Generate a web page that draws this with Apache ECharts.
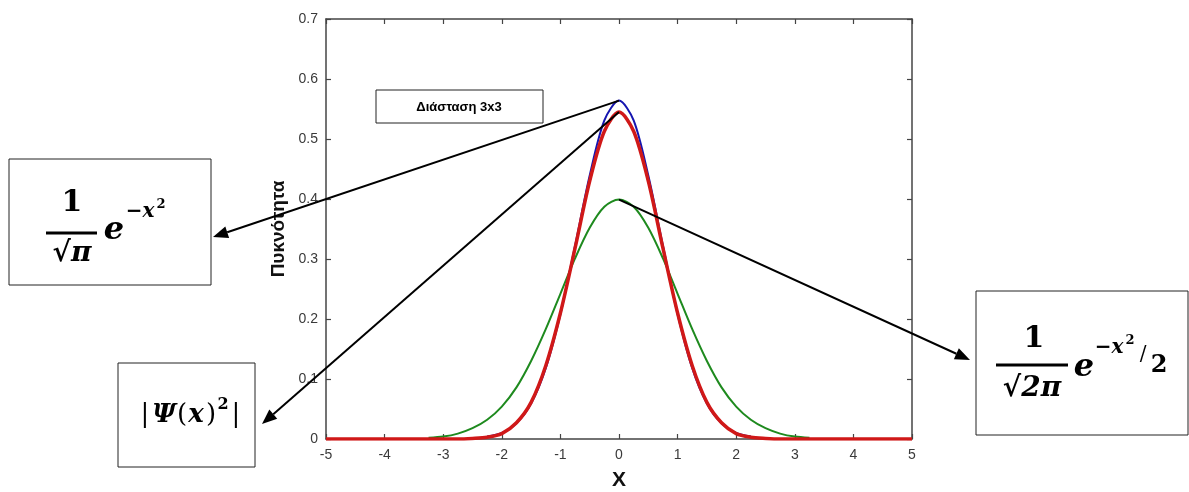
<!DOCTYPE html>
<html><head><meta charset="utf-8">
<script src="https://cdn.jsdelivr.net/npm/echarts@6/dist/echarts.min.js"></script>
<style>html,body{margin:0;padding:0;background:#fff}#c{width:1189px;height:492px}</style>
</head><body><div id="c"></div>
<script>
var xValues = [-5,-4.75,-4.5,-4.25,-4,-3.75,-3.5,-3.25,-3,-2.75,-2.5,-2.25,-2,-1.75,-1.5,-1.25,-1,-0.75,-0.5,-0.25,0,
  0.25,0.5,0.75,1,1.25,1.5,1.75,2,2.25,2.5,2.75,3,3.25,3.5,3.75,4,4.25,4.5,4.75,5];
var blueY = [null,null,null,null,null,null,null,null,null,null,null,0.004,0.010,0.026,0.059,0.118,0.208,0.322,0.439,0.531,0.564,
  0.531,0.439,0.322,0.208,0.118,0.059,0.026,0.010,0.004,null,null,null,null,null,null,null,null,null,null,null];
var greenY = [null,null,null,null,null,null,null,0.002,0.004,0.009,0.018,0.032,0.054,0.086,0.130,0.183,0.242,0.301,0.352,0.387,0.399,
  0.387,0.352,0.301,0.242,0.183,0.130,0.086,0.054,0.032,0.018,0.009,0.004,0.002,null,null,null,null,null,null,null];
var redY = [0,0,0,0,0,0,0,0,0,0,0.001,0.003,0.009,0.027,0.061,0.122,0.210,0.318,0.430,0.513,0.545,
  0.513,0.430,0.318,0.210,0.122,0.061,0.027,0.009,0.003,0.001,0,0,0,0,0,0,0,0,0,0];
var yTicks = [0,0.1,0.2,0.3,0.4,0.5,0.6,0.7];
var annotation = 'Διάσταση 3x3';

function pairs(ys){ return xValues.map(function(x,i){ return [x, ys[i]]; }); }

var chart = echarts.init(document.getElementById('c'), null, {renderer:'canvas'});
var axisCol = '#444';
var lab = {color:'#3a3a3a', fontFamily:'Liberation Sans, Arial', fontSize:14};
function aline(){ return {show:true, onZero:false, lineStyle:{color:axisCol, width:1.5}}; }
function atick(){ return {show:true, inside:true, length:5, lineStyle:{color:axisCol, width:1.2}}; }
var option = {
  animation:false,
  backgroundColor:'#fff',
  grid:{left:326, right:277, top:19, bottom:53, containLabel:false, outerBoundsMode:'none'},
  xAxis:[{type:'value', min:-5, max:5, interval:1,
      axisLine:aline(), axisTick:atick(),
      axisLabel:Object.assign({margin:9}, lab),
      splitLine:{show:false},
      name:'X', nameLocation:'middle', nameGap:31, nameMoveOverlap:false,
      nameTextStyle:{fontFamily:'Liberation Sans, Arial', fontWeight:'bold', fontSize:21, color:'#111'}},
    {type:'value', min:-5, max:5, interval:1, position:'top',
      axisLine:aline(), axisTick:atick(),
      axisLabel:{show:false}, splitLine:{show:false}}],
  yAxis:[{type:'value', min:0, max:0.7, interval:0.1, position:'left',
      axisLine:aline(), axisTick:atick(),
      axisLabel:Object.assign({margin:8, formatter:function(v){ return String(Math.round(v*10)/10); }}, lab),
      splitLine:{show:false},
      name:'Πυκνότητα', nameLocation:'middle', nameGap:38, nameMoveOverlap:false,
      nameTextStyle:{fontFamily:'Liberation Sans, Arial', fontWeight:'bold', fontSize:19, color:'#111'}},
    {type:'value', min:0, max:0.7, interval:0.1, position:'right',
      axisLine:aline(), axisTick:atick(),
      axisLabel:{show:false}, splitLine:{show:false}}],
  series:[
    {type:'line', data:pairs(blueY), smooth:0.3, showSymbol:false, lineStyle:{color:'#1515b0', width:2}, z:3},
    {type:'line', data:pairs(greenY), smooth:0.3, showSymbol:false, lineStyle:{color:'#1e8a1e', width:2}, z:4},
    {type:'line', data:pairs(redY), smooth:0.3, showSymbol:false, lineStyle:{color:'#d01818', width:3.5}, z:5}
  ]
};
chart.setOption(option);

function arrow(p0, p1){
  var dx=p1[0]-p0[0], dy=p1[1]-p0[1], L=Math.sqrt(dx*dx+dy*dy);
  var ux=dx/L, uy=dy/L, hl=15, hw=6;
  var bx=p1[0]-ux*hl, by=p1[1]-uy*hl;
  return [
    {type:'line', shape:{x1:p0[0], y1:p0[1], x2:bx, y2:by}, style:{stroke:'#000', lineWidth:2}, z:50},
    {type:'polygon', shape:{points:[[p1[0],p1[1]],[bx-uy*hw, by+ux*hw],[bx+uy*hw, by-ux*hw]]}, style:{fill:'#000'}, z:50}
  ];
}
var pBlue = chart.convertToPixel({seriesIndex:0}, [0, blueY[20]]);
var pRed = chart.convertToPixel({seriesIndex:2}, [0, redY[20]]);
var pGreen = chart.convertToPixel({seriesIndex:1}, [0, greenY[20]]);

var serif = 'DejaVu Serif, Liberation Serif, serif';
function T(x,y,text,size,opts){
  return {type:'text', x:x, y:y, z:60, style:Object.assign({text:text, fontFamily:serif, fontSize:size, fontWeight:'bold', fill:'#000', align:'center', verticalAlign:'middle'}, opts||{})};
}
function box(x,y,w,h){ return {type:'rect', shape:{x:x,y:y,width:w,height:h}, style:{fill:'#fff', stroke:'#222', lineWidth:1}, z:40}; }
function bar(x1,x2,y){ return {type:'line', shape:{x1:x1,y1:y,x2:x2,y2:y}, style:{stroke:'#000', lineWidth:3}, z:60}; }
var it = {fontStyle:'italic'};
var up = {fontStyle:'normal', fontWeight:'normal'};

var g = [];
// annotation box
g.push({type:'rect', shape:{x:376,y:90,width:167,height:33}, style:{fill:'#fff', stroke:'#222', lineWidth:1}, z:40});
g.push({type:'text', x:459, y:107, z:60, style:{text:annotation, fontFamily:'Liberation Sans, Arial', fontWeight:'bold', fontSize:13, fill:'#000', align:'center', verticalAlign:'middle'}});
// box 1
g.push(box(9,159,202,126));
g.push(T(72,203,'1',30));
g.push(bar(46,97,233));
g.push(T(72,254,'√π',28,it));
g.push(T(114,231,'e',32,it));
g.push(T(140,212,'−x',20,it));
g.push(T(161,205,'2',13));
// box 2
g.push(box(118,363,137,104));
g.push(T(145,415,'|',26,up));
g.push(T(164,415,'Ψ',26,it));
g.push(T(182,415,'(',26,up));
g.push(T(196,415,'x',26,it));
g.push(T(211,415,')',26,up));
g.push(T(223,405,'2',16));
g.push(T(236,415,'|',26,up));
// box 3
g.push(box(976,291,212,144));
g.push(T(1034,339,'1',30));
g.push(bar(996,1068,365));
g.push(T(1032,389,'√2π',28,it));
g.push(T(1084,368,'e',32,it));
g.push(T(1109,348,'−x',20,it));
g.push(T(1130,341,'2',13));
g.push(T(1143,355,'/',20,up));
g.push(T(1159,366,'2',24));
// arrows
g = g.concat(arrow(pBlue,[213,237]), arrow(pRed,[262,424]), arrow(pGreen,[970,360]));
chart.setOption({graphic:g});
</script></body></html>
